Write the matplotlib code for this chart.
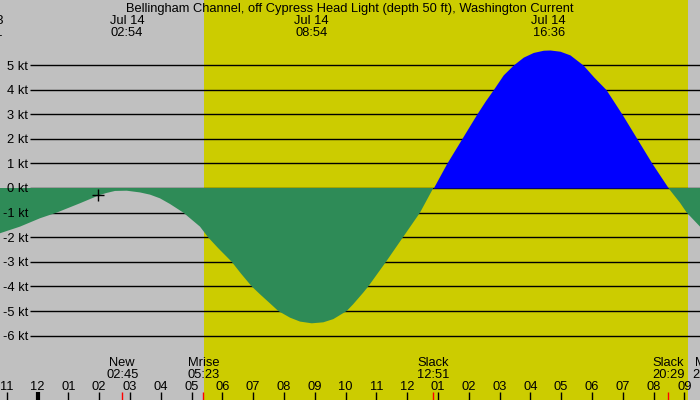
import matplotlib
matplotlib.use("Agg")
import matplotlib.pyplot as plt
import numpy as np

# ---- data (hours after midnight Jul 14, current in knots) ----
hours = [-1.218, -0.568, 0.081, 0.623, 1.380, 2.029, 2.247, 2.516, 2.896, 3.328,
         3.653, 3.977, 4.302, 4.734, 5.276, 5.536, 5.870, 6.305, 6.607, 6.955,
         7.224, 7.549, 7.818, 8.198, 8.523, 8.903, 9.279, 9.604, 10.039, 10.253,
         10.578, 10.740, 11.315, 11.867, 12.419, 12.851, 13.286, 13.773, 14.260,
         14.545, 14.799, 15.123, 15.448, 15.773, 16.097, 16.422, 16.640, 16.964,
         17.289, 17.711, 18.068, 18.458, 18.977, 19.464, 19.951, 20.481, 20.860,
         21.078, 21.510]
knots = [-1.84, -1.57, -1.23, -1.00, -0.62, -0.28, -0.20, -0.12, -0.11, -0.18,
         -0.27, -0.42, -0.65, -1.00, -1.57, -2.00, -2.45, -3.00, -3.48, -4.00,
         -4.32, -4.69, -5.00, -5.27, -5.43, -5.50, -5.46, -5.33, -5.00, -4.72,
         -4.25, -4.00, -3.00, -2.00, -1.00, 0.00, 1.00, 2.00, 3.00,
         3.55, 4.00, 4.60, 5.00, 5.32, 5.51, 5.60, 5.61, 5.56,
         5.41, 5.00, 4.50, 4.00, 3.00, 2.00, 1.00, 0.00, -0.60,
         -1.00, -1.57]

title = "Bellingham Channel, off Cypress Head Light (depth 50 ft), Washington Current"
top_hours = [-1.66, 2.90, 8.90, 16.60]
top_dates = ["Jul 13", "Jul 14", "Jul 14", "Jul 14"]
top_times = ["22:21", "02:54", "08:54", "16:36"]

bottom_hours = [2.75, 5.383, 12.85, 20.483, 21.8]
bottom_names = ["New", "Mrise", "Slack", "Slack", "Mset"]
bottom_times = ["02:45", "05:23", "12:51", "20:29", "21:48"]

kt_levels = [5, 4, 3, 2, 1, 0, -1, -2, -3, -4, -5, -6]
hour_ticks = list(range(-1, 22))
hour_labels = ["%02d" % (12 if h % 12 == 0 else h % 12) for h in hour_ticks]

sunrise, sunset = 5.40, 21.12
marker_hour, marker_kt = 1.96, -0.28

# ---- style ----
GRAY = "#c0c0c0"
YELLOW = "#cccc00"
GREEN = "#2e8b57"
BLUE = "#0000ff"
FS = 9.3
plt.rcParams["font.family"] = ["Liberation Sans", "DejaVu Sans"]

W, H = 700, 400
PXKT = 24.6
fig = plt.figure(figsize=(7, 4), dpi=100)
fig.patch.set_facecolor(GRAY)
ax = fig.add_axes([0, 0, 1, 1])
ax.set_facecolor(GRAY)

x0h = (0 - 37.5) / 30.8
x1h = (700 - 37.5) / 30.8
ax.set_xlim(x0h, x1h)
ax.set_ylim((188 - 400) / PXKT, 188 / PXKT)
ax.axis("off")

ax.axvspan(sunrise, sunset, color=YELLOW, zorder=0, lw=0)

ytr = ax.get_yaxis_transform()
ax.hlines(kt_levels, 30 / W, 1, transform=ytr, colors="black", lw=1, zorder=1)
for k in kt_levels:
    ax.text(28 / W, k - 1.5 / PXKT, "%d kt" % k, transform=ytr, ha="right", va="center",
            fontsize=FS, color="black", zorder=5)

t = np.array(hours)
v = np.array(knots)
ax.fill_between(t, v, 0, where=v <= 0, interpolate=True, color=GREEN, lw=0, zorder=2)
ax.fill_between(t, v, 0, where=v >= 0, interpolate=True, color=BLUE, lw=0, zorder=2)
ax.plot([marker_hour], [marker_kt], marker="+", color="black", ms=9, mew=1, zorder=6)

def py(p):
    return 1 - (p + 1.0) / H

xtr = ax.get_xaxis_transform()
ax.text(0.5, py(8), title, transform=ax.transAxes, ha="center", va="center", fontsize=FS)
for h, d, tm in zip(top_hours, top_dates, top_times):
    ax.text(h, py(20), d, transform=xtr, ha="center", va="center", fontsize=FS)
    ax.text(h, py(31.5), tm, transform=xtr, ha="center", va="center", fontsize=FS)

for h, n, tm in zip(bottom_hours, bottom_names, bottom_times):
    ax.text(h, py(361.5), n, transform=xtr, ha="center", va="center", fontsize=FS)
    ax.text(h, py(373.5), tm, transform=xtr, ha="center", va="center", fontsize=FS)
    ax.vlines(h, 0, 1 - 391.5 / H, transform=xtr, colors="red", lw=1, zorder=4)

for h, lab in zip(hour_ticks, hour_labels):
    ax.text(h, py(386.5), lab, transform=xtr, ha="center", va="center", fontsize=FS)
    ax.vlines(h, 0, 1 - 391.5 / H, transform=xtr, colors="black",
              lw=3 if h % 24 == 0 else 1, zorder=4)

fig.savefig("out.png", dpi=100, facecolor=GRAY)
